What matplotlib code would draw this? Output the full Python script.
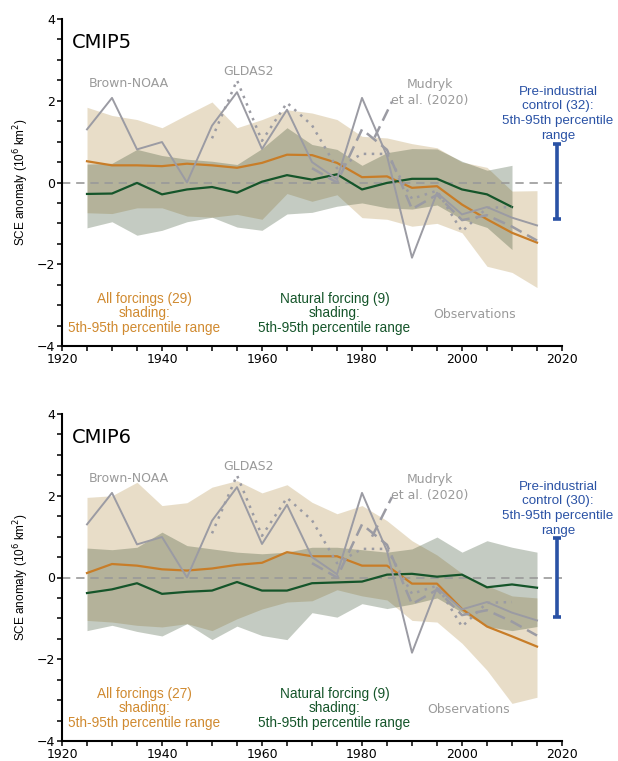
import matplotlib
matplotlib.use("Agg")
import matplotlib.pyplot as plt
from matplotlib.ticker import MultipleLocator

# pentad centres
years = [1925, 1930, 1935, 1940, 1945, 1950, 1955, 1960, 1965, 1970,
         1975, 1980, 1985, 1990, 1995, 2000, 2005, 2010, 2015]

# CMIP5
all_mean5 = [0.52, 0.42, 0.42, 0.40, 0.46, 0.42, 0.36, 0.48, 0.68, 0.67,
             0.48, 0.13, 0.15, -0.13, -0.09, -0.54, -0.90, -1.23, -1.47]
all_hi5 = [1.84, 1.64, 1.54, 1.34, 1.66, 1.97, 1.34, 1.54, 1.78, 1.70,
           1.54, 1.13, 1.09, 0.95, 0.85, 0.50, 0.37, -0.21, -0.20]
all_lo5 = [-0.74, -0.76, -0.62, -0.62, -0.82, -0.85, -0.78, -0.90, -0.27, -0.46,
           -0.30, -0.86, -0.90, -1.07, -1.00, -1.23, -2.05, -2.20, -2.57]
nat_mean5 = [-0.28, -0.27, -0.01, -0.29, -0.17, -0.11, -0.25, 0.02, 0.18, 0.07,
             0.20, -0.17, -0.01, 0.09, 0.09, -0.17, -0.29, -0.60]
nat_hi5 = [0.45, 0.47, 0.81, 0.66, 0.57, 0.52, 0.44, 0.83, 1.34, 0.93,
           0.81, 0.42, 0.73, 0.83, 0.82, 0.52, 0.30, 0.42]
nat_lo5 = [-1.11, -0.96, -1.29, -1.17, -0.96, -0.85, -1.09, -1.17, -0.77, -0.73,
           -0.58, -0.50, -0.62, -0.65, -0.55, -0.90, -1.10, -1.64]
ctrl5 = (-0.90, 0.93)

# CMIP6
all_mean6 = [0.11, 0.33, 0.29, 0.20, 0.17, 0.22, 0.31, 0.36, 0.62, 0.52,
             0.52, 0.29, 0.29, -0.15, -0.15, -0.77, -1.20, -1.44, -1.69]
all_hi6 = [1.96, 2.00, 2.33, 1.76, 1.83, 2.21, 2.37, 2.07, 2.27, 1.84,
           1.56, 1.76, 1.39, 0.90, 0.55, 0.10, -0.20, -0.45, -0.50]
all_lo6 = [-1.05, -1.09, -1.17, -1.21, -1.13, -1.30, -1.01, -0.77, -0.60, -0.57,
           -0.30, -0.45, -0.55, -1.05, -1.09, -1.61, -2.27, -3.08, -2.93]
nat_mean6 = [-0.38, -0.29, -0.14, -0.40, -0.35, -0.32, -0.11, -0.32, -0.32, -0.14,
             -0.12, -0.10, 0.07, 0.09, 0.02, 0.07, -0.24, -0.17, -0.25]
nat_hi6 = [0.72, 0.68, 0.74, 1.11, 0.78, 0.70, 0.62, 0.58, 0.62, 0.74,
           0.74, 0.68, 0.62, 0.70, 0.99, 0.62, 0.90, 0.74, 0.62]
nat_lo6 = [-1.30, -1.17, -1.32, -1.43, -1.13, -1.52, -1.19, -1.42, -1.52, -0.86,
           -0.97, -0.64, -0.76, -0.65, -0.50, -0.85, -1.20, -1.30, -1.20]
ctrl6 = (-0.97, 0.96)

# observations
brown = [1.30, 2.07, 0.81, 0.99, 0.00, 1.39, 2.21, 0.82, 1.78, 0.50,
         0.08, 2.07, 0.65, -1.84, -0.25, -0.78, -0.60, -0.86, -1.05]
gldas_years = [1950, 1955, 1960, 1965, 1970, 1975, 1980, 1985, 1990, 1995, 2000, 2005, 2010]
gldas = [1.08, 2.50, 1.02, 1.95, 1.40, 0.35, 0.70, 0.70, -0.40, -0.20, -1.20, -0.62, -0.60]
mudryk_years = [1970, 1975, 1980, 1985, 1990, 1995, 2000, 2005, 2010, 2015]
mudryk = [0.35, 0.00, 1.30, 0.80, -0.65, -0.30, -0.92, -0.80, -1.08, -1.42]

ORANGE = '#c87d28'
ORANGE_TXT = '#d08a30'
GREEN = '#15552a'
TAN = '#bea064'
SAGE = '#28411e'
GRAY = '#9b9ba3'
GRAY_TXT = '#9a9a9a'
BLUE = '#2a52a5'
SANS2 = 'Liberation Sans'


def draw_panel(ax, name, a_mean, a_lo, a_hi, n_mean, n_lo, n_hi, n_all, n_nat,
               n_ctrl, ctrl, leader_x, leader_y, obs_x, all_x):
    n_years = years[:len(n_mean)]
    ax.fill_between(years, a_lo, a_hi, color=TAN, alpha=0.35, lw=0, zorder=1)
    ax.fill_between(n_years, n_lo, n_hi, color=SAGE, alpha=0.27, lw=0, zorder=1.1)
    ax.axhline(0, color='#999999', ls=(0, (5, 3.5)), lw=1.2, zorder=1.5)

    ax.plot(years, a_mean, color=ORANGE, lw=1.6, zorder=3)
    ax.plot(n_years, n_mean, color=GREEN, lw=1.6, zorder=3)

    ax.plot(years, brown, color=GRAY, lw=1.4, zorder=4)
    ax.plot(gldas_years, gldas, color=GRAY, lw=1.8, ls=(0, (1, 2.2)), zorder=4)
    ax.plot(mudryk_years, mudryk, color=GRAY, lw=1.8, ls=(0, (5, 2.5)), zorder=4)
    # leader line from the Mudryk label
    ax.plot(leader_x, leader_y, color=GRAY, lw=1.8, ls=(0, (5, 2.5)), zorder=4)

    mid = (ctrl[0] + ctrl[1]) / 2
    ax.errorbar([2019], [mid], yerr=[[mid - ctrl[0]], [ctrl[1] - mid]], fmt='none',
                ecolor=BLUE, elinewidth=2.6, capsize=3, capthick=2.6, zorder=5,
                clip_on=False)

    ax.text(1922, 3.43, name, fontsize=14, ha='left', va='center')
    ax.text(1933.3, 2.42, 'Brown-NOAA', fontsize=9, color=GRAY_TXT, ha='center', va='center')
    ax.text(1957.2, 2.71, 'GLDAS2', fontsize=9, color=GRAY_TXT, ha='center', va='center')
    ax.text(1993.6, 2.2, 'Mudryk\net al. (2020)', fontsize=9, color=GRAY_TXT,
            ha='center', va='center', linespacing=1.25)
    ax.text(obs_x, -3.24, 'Observations', fontsize=9, color=GRAY_TXT, ha='center', va='center')
    ax.text(2019.2, 1.0, f'Pre-industrial\ncontrol ({n_ctrl}):\n5th-95th percentile\nrange',
            family=SANS2, fontsize=9.6, color=BLUE, ha='center', va='bottom',
            linespacing=1.3)
    ax.text(all_x, -3.2, f'All forcings ({n_all})\nshading:\n5th-95th percentile range',
            family=SANS2, fontsize=9.8, color=ORANGE_TXT, ha='center', va='center',
            linespacing=1.05)
    ax.text(1974.5, -3.2, f'Natural forcing ({n_nat})\nshading:\n5th-95th percentile range',
            family=SANS2, fontsize=9.8, color=GREEN, ha='center', va='center',
            linespacing=1.05)

    ax.set_xlim(1920, 2020)
    ax.set_ylim(-4, 4)
    ax.xaxis.set_major_locator(MultipleLocator(20))
    ax.xaxis.set_minor_locator(MultipleLocator(5))
    ax.yaxis.set_major_locator(MultipleLocator(2))
    ax.yaxis.set_minor_locator(MultipleLocator(0.5))
    ax.tick_params(which='both', direction='out', length=3.5, width=1.1, labelsize=9, pad=1.5)
    for s in ('top', 'right'):
        ax.spines[s].set_visible(False)
    for s in ('left', 'bottom'):
        ax.spines[s].set_linewidth(1.5)
    ax.set_ylabel('SCE anomaly (10$^6$ km$^2$)', family=SANS2, fontsize=8.5, labelpad=4)
    ax.patch.set_alpha(0)


fig = plt.figure(figsize=(6.18, 7.61), dpi=100)
W, H = 618, 761
ax1 = fig.add_axes([62 / W, (H - 346) / H, 500 / W, 327 / H])
ax2 = fig.add_axes([62 / W, (H - 741) / H, 500 / W, 327 / H])

draw_panel(ax1, 'CMIP5', all_mean5, all_lo5, all_hi5, nat_mean5, nat_lo5, nat_hi5,
           29, 9, 32, ctrl5, [1982.5, 1986.0], [1.10, 1.98], 2002.5, 1936.5)
draw_panel(ax2, 'CMIP6', all_mean6, all_lo6, all_hi6, nat_mean6, nat_lo6, nat_hi6,
           27, 9, 30, ctrl6, [1982.0, 1986.0], [1.00, 1.97], 2001.3, 1936.5)

fig.savefig('out.png', dpi=100)
